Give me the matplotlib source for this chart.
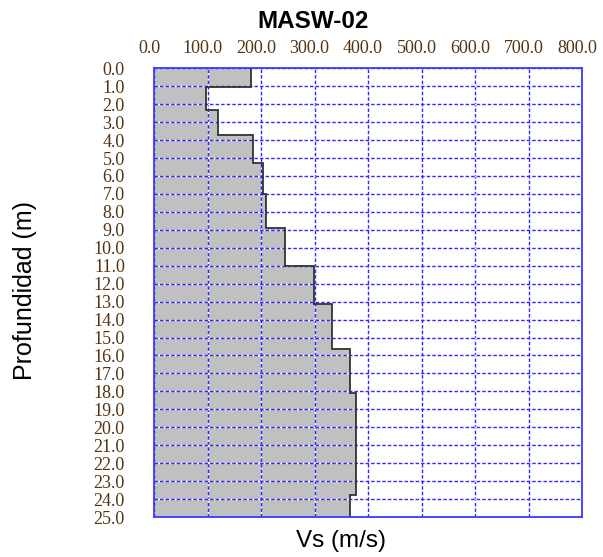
import numpy as np
import matplotlib
matplotlib.use("Agg")
import matplotlib.pyplot as plt
import matplotlib.transforms as mtransforms

# layer boundaries (m) and shear wave velocities (m/s)
depth_edges = [0.0, 1.05, 2.3, 3.7, 5.3, 7.0, 8.9, 11.0, 13.15, 15.65, 18.1, 23.8, 25.0]
vs = [181, 97, 119, 185, 203, 210, 244, 299, 333, 366, 378, 367]

x_ticks = [0, 100, 200, 300, 400, 500, 600, 700, 800]
y_ticks = np.arange(0, 26, 1)

fig = plt.figure(figsize=(6.03, 5.57), dpi=100)
ax = fig.add_axes([0.2554, 0.0718, 0.7098, 0.8056])

# filled profile
ax.stairs(vs, depth_edges, orientation="horizontal", fill=True,
          baseline=0, color="#c0c0c0", zorder=1)
# outline of the steps
ax.stairs(vs, depth_edges, orientation="horizontal", fill=False,
          baseline=None, color="#333333", linewidth=1.3, zorder=3)

ax.set_xlim(0, 800)
ax.set_ylim(25, 0)
ax.set_xticks(x_ticks)
ax.set_yticks(y_ticks)
ax.set_xticklabels(["{:.1f}".format(v) for v in x_ticks])
ax.set_yticklabels(["{:.1f}".format(v) for v in y_ticks])

ax.xaxis.tick_top()
ax.tick_params(axis="both", length=0, labelsize=13, labelcolor="#553311")
ax.tick_params(axis="x", pad=8)
ax.tick_params(axis="y", pad=21)
for lab in ax.get_xticklabels() + ax.get_yticklabels():
    lab.set_fontfamily("Liberation Serif")

# shift top labels slightly left like the original
offset = mtransforms.ScaledTranslation(-5 / 100, 0, fig.dpi_scale_trans)
for lab in ax.get_xticklabels():
    lab.set_transform(lab.get_transform() + offset)

ax.set_axisbelow(False)
ax.grid(True, color="#2a2aff", linestyle=(0, (2.5, 1.5)), linewidth=1.0,
        gapcolor="white")

for sp in ax.spines.values():
    sp.set_color("#3a3aff")
    sp.set_linewidth(1.3)
    sp.set_zorder(4)

fig.text(313 / 603, 1 - 21 / 557, "MASW-02", ha="center", va="center",
         fontsize=17.5, fontweight="bold", family="Liberation Sans")
fig.text(341 / 603, 1 - 541 / 557, "Vs (m/s)", ha="center", va="center",
         fontsize=17.5, family="Liberation Sans")
fig.text(25 / 603, 1 - 290 / 557, "Profundidad (m)", ha="center", va="center",
         rotation=90, fontsize=18, family="Liberation Sans")

fig.savefig("out.png", dpi=100)
